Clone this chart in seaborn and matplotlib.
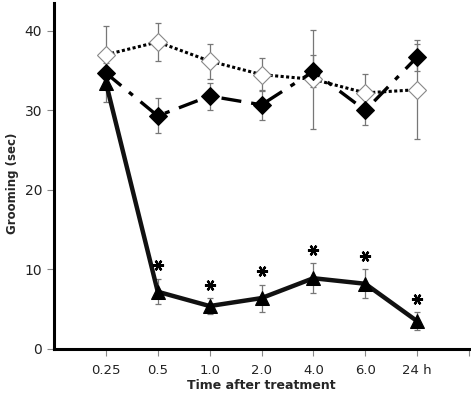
import numpy as np
import pandas as pd
import matplotlib
matplotlib.use("Agg")
import matplotlib.pyplot as plt
import seaborn as sns

# values
times = ["0.25", "0.5", "1.0", "2.0", "4.0", "6.0", "24 h"]
open_mean = [37.0, 38.6, 36.2, 34.5, 33.9, 32.2, 32.6]
open_err = [3.6, 2.4, 2.2, 2.1, 6.2, 2.4, 6.2]
filled_mean = [34.7, 29.3, 31.8, 30.7, 34.9, 30.0, 36.7]
filled_err = [1.8, 2.2, 1.7, 1.9, 2.0, 1.8, 1.7]
tri_mean = [33.5, 7.2, 5.4, 6.4, 8.9, 8.2, 3.5]
tri_err = [2.5, 1.6, 1.0, 1.7, 1.9, 1.8, 1.1]
star_pos = [1, 2, 3, 4, 5, 6]

sns.set_style("ticks")
plt.rcParams["font.family"] = ["DejaVu Sans"]

xpos = np.arange(1, len(times) + 1)
df = pd.DataFrame({"x": xpos, "open": open_mean, "filled": filled_mean, "tri": tri_mean})

fig = plt.figure(figsize=(4.71, 3.93), dpi=100)
ax = fig.add_axes([54 / 471, 44 / 393, 415 / 471, 346 / 393])

# error bars first (grey, thin)
for m, e in [(open_mean, open_err), (filled_mean, filled_err), (tri_mean, tri_err)]:
    ax.errorbar(xpos, m, yerr=e, fmt="none", ecolor="#777777", elinewidth=0.9, capsize=2.5, capthick=0.9, zorder=1)

sns.lineplot(data=df, x="x", y="open", ax=ax, color="black", lw=2.2, linestyle=(0, (1, 0.8)),
             marker="D", markersize=9, markerfacecolor="white", markeredgecolor="#888888", markeredgewidth=0.8, zorder=3)
sns.lineplot(data=df, x="x", y="filled", ax=ax, color="black", lw=2.4, linestyle=(0, (6, 3, 1.5, 3)),
             marker="D", markersize=9, markerfacecolor="black", markeredgecolor="black", zorder=4)
sns.lineplot(data=df, x="x", y="tri", ax=ax, color="#111111", lw=3.2,
             marker="^", markersize=10, markerfacecolor="black", markeredgecolor="black", zorder=5)

# significance asterisks above the triangle series
sx = [xpos[i] for i in star_pos]
sy = [tri_mean[i] + tri_err[i] + 1.7 for i in star_pos]
ax.plot(sx, sy, linestyle="none", marker=(6, 2, 90), markersize=8, markeredgewidth=1.6,
        color="black", zorder=6)

ax.set_xlim(0, 8)
ax.set_ylim(0, 43.5)
ax.set_xticks(xpos)
ax.set_xticklabels(times)
ax.set_xticks([8], minor=True)
ax.set_yticks([0, 10, 20, 30, 40])
ax.tick_params(axis="x", which="both", length=5, width=0.8, color="#888888", labelsize=9.5, labelcolor="#222222", pad=6)
ax.tick_params(axis="y", length=5, width=0.8, color="#888888", labelsize=10, labelcolor="#222222")
for s in ["left", "bottom"]:
    ax.spines[s].set_linewidth(2.2)
    ax.spines[s].set_color("black")
sns.despine(ax=ax)

ax.set_xlabel("Time after treatment", fontsize=9, fontweight="bold", labelpad=1)
ax.set_ylabel("Grooming (sec)", fontsize=8.5, fontweight="bold")
ax.yaxis.set_label_coords(-0.085, 0.48)

fig.savefig("out.png", dpi=100)
